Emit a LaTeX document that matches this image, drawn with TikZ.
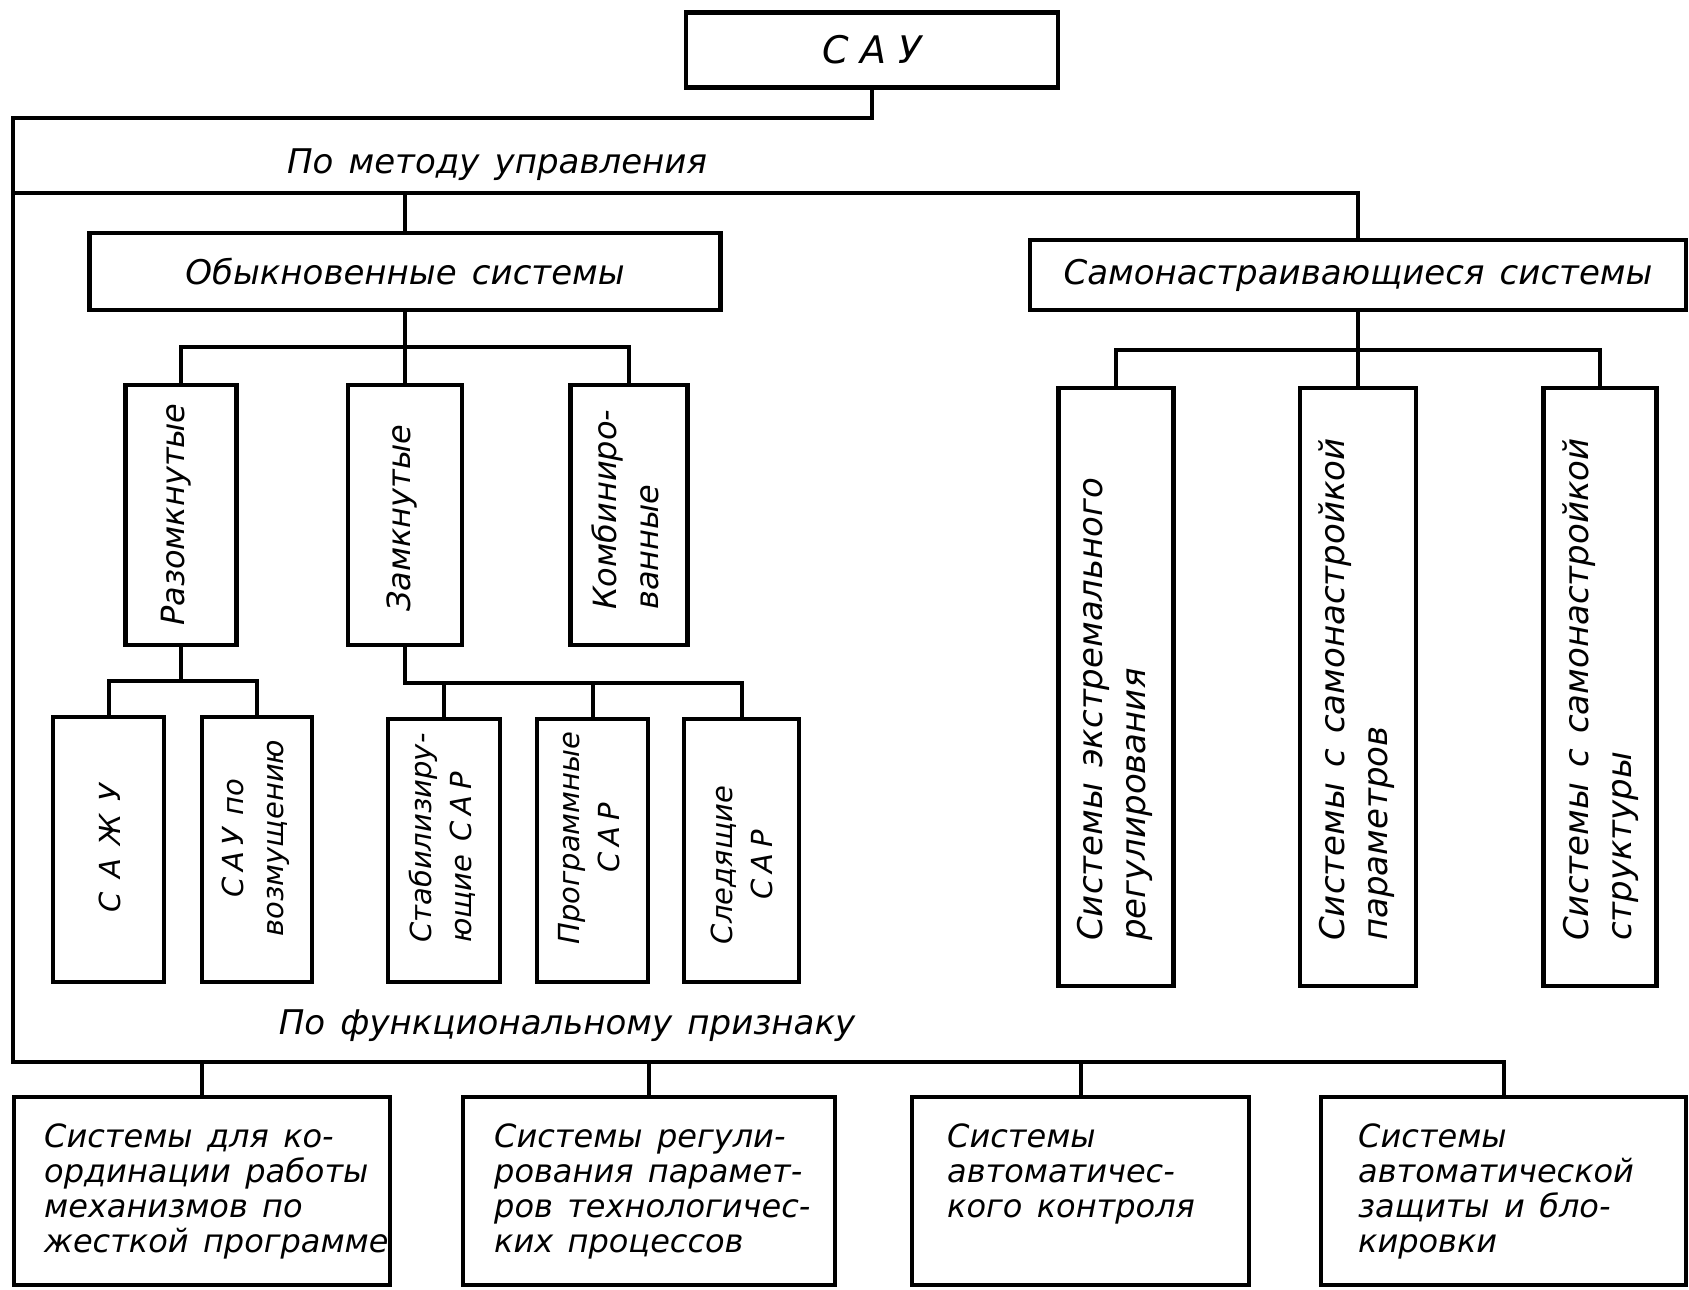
\documentclass[tikz,border=0pt]{standalone}
\usepackage{fontspec}
\newfontfamily\gost{DejaVu Sans}
\newcommand\gostfont[2]{\gost\itshape\fontsize{#1}{#2}\selectfont\spaceskip=.45em plus .1em\relax}
\tikzset{
  box/.style={draw, line width=4.5pt, rectangle, inner sep=0pt, font=\gostfont{34}{40}},
  conn/.style={line width=4pt},
  txt/.style={inner sep=0pt, font=\gostfont{34}{40}},
  vtxt/.style={inner sep=0pt, rotate=90, align=left, font=\gostfont{32}{42}},
  stxt/.style={vtxt, font=\gostfont{29}{40}},
  rtxt/.style={vtxt, font=\gostfont{34}{43}},
  btxt/.style={inner sep=0pt, align=left, anchor=north west, font=\gostfont{32}{35}},
}
\begin{document}
\begin{tikzpicture}[x=1pt, y=-1pt]
\useasboundingbox (0,0) rectangle (1689,1290);
% top
\node[box, minimum width=372pt, minimum height=75pt, font=\gostfont{38}{40}] (sau) at (872,50) {С\kern.3em А\kern.3em У};
\node[txt, anchor=base] (tmet) at (497,173) {По методу управления};
\node[box, minimum width=631pt, minimum height=77pt] (obyk) at (405,271.5) {Обыкновенные системы};
\node[box, minimum width=656pt, minimum height=70pt] (samo) at (1358,275) {Самонастраивающиеся системы};
% middle left
\node[box, minimum width=111pt, minimum height=260pt] (raz) at (181,515) {};
\node[box, minimum width=114pt, minimum height=260pt] (zam) at (405,515) {};
\node[box, minimum width=117pt, minimum height=260pt] (komb) at (629,515) {};
\node[box, minimum width=111pt, minimum height=265pt] (sazhu) at (108.5,849.5) {};
\node[box, minimum width=110pt, minimum height=265pt] (vozm) at (257,849.5) {};
\node[box, minimum width=112pt, minimum height=263pt] (stab) at (444,850.5) {};
\node[box, minimum width=111pt, minimum height=263pt] (prog) at (592.5,850.5) {};
\node[box, minimum width=115pt, minimum height=263pt] (sled) at (741.5,850.5) {};
% middle right
\node[box, minimum width=115pt, minimum height=598pt] (ext) at (1116,687) {};
\node[box, minimum width=116pt, minimum height=598pt] (par) at (1358,687) {};
\node[box, minimum width=113pt, minimum height=598pt] (str) at (1600,687) {};
% bottom
\node[txt, anchor=base] (tfun) at (567,1034) {По функциональному признаку};
\node[box, minimum width=376pt, minimum height=188pt] (fb1) at (202,1191) {};
\node[box, minimum width=372pt, minimum height=188pt] (fb2) at (649,1191) {};
\node[box, minimum width=337pt, minimum height=188pt] (fb3) at (1080.5,1191) {};
\node[box, minimum width=365pt, minimum height=188pt] (fb4) at (1503.5,1191) {};
% vertical texts
\node[vtxt, anchor=west] (traz) at (176,626) {Разомкнутые};
\node[vtxt, anchor=west] (tzam) at (402,612) {Замкнутые};
\node[vtxt, anchor=west] (tkomb) at (625,610) {Комбиниро-\\ванные};
\node[stxt, anchor=center] (tsazhu) at (110,848) {С\kern.45em А\kern.45em Ж\kern.45em У};
\node[stxt, align=center, anchor=center] (tvozm) at (256,838) {С\kern.2em А\kern.2em У по\\возмущению};
\node[stxt, anchor=west] (tstab) at (442,943) {Стабилизиру-\\ющие С\kern.2em А\kern.2em Р};
\node[stxt, align=center, anchor=center] (tprog) at (589,838) {Программные\\С\kern.2em А\kern.2em Р};
\node[stxt, align=center, anchor=center] (tsled) at (742,865) {Следящие\\С\kern.2em А\kern.2em Р};
\node[rtxt, anchor=west] (text) at (1115,941) {Системы экстремального\\регулирования};
\node[rtxt, anchor=west] (tpar) at (1357,941) {Системы с самонастройкой\\параметров};
\node[rtxt, anchor=west] (tstr) at (1601,941) {Системы с самонастройкой\\структуры};
% bottom texts
\node[btxt] (tfb1) at (44,1124) {Системы для ко-\\ординации работы\\механизмов по\\жесткой программе};
\node[btxt] (tfb2) at (494,1124) {Системы регули-\\рования парамет-\\ров технологичес-\\ких процессов};
\node[btxt] (tfb3) at (947,1124) {Системы\\автоматичес-\\кого контроля};
\node[btxt] (tfb4) at (1358,1124) {Системы\\автоматической\\защиты и бло-\\кировки};
% connectors
\coordinate (tl) at (13,118);
\coordinate (bl) at (13,1062);
\coordinate (m1) at (13,193);
\coordinate (b1) at (0,347);
\coordinate (b2) at (0,681);
\coordinate (b3) at (0,683);
\coordinate (b4) at (0,350);
\draw[conn] (sau.south) |- (tl) -- (bl) -| (fb4.north);
\draw[conn] (fb1.north) -- (fb1.north |- bl);
\draw[conn] (fb2.north) -- (fb2.north |- bl);
\draw[conn] (fb3.north) -- (fb3.north |- bl);
\draw[conn] (m1) -| (samo.north);
\draw[conn] (obyk.north) -- (obyk.north |- m1);
\draw[conn] (raz.north) |- (komb.north |- b1) -- (komb.north);
\draw[conn] (obyk.south) -- (zam.north);
\draw[conn] (sazhu.north) |- (vozm.north |- b2) -- (vozm.north);
\draw[conn] (raz.south) -- (raz.south |- b2);
\draw[conn] (zam.south) |- (sled.north |- b3) -- (sled.north);
\draw[conn] (stab.north) -- (stab.north |- b3);
\draw[conn] (prog.north) -- (prog.north |- b3);
\draw[conn] (ext.north) |- (str.north |- b4) -- (str.north);
\draw[conn] (samo.south) -- (par.north);
\end{tikzpicture}
\end{document}
